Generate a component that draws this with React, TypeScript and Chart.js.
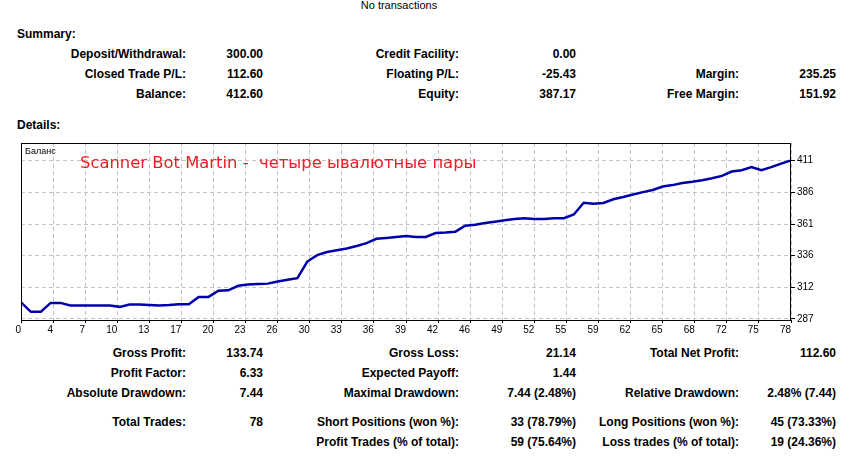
import React, { useEffect, useRef } from 'react';
import { Chart, registerables } from 'chart.js';

Chart.register(...registerables);

// Balance after each trade (index 0 = initial deposit)
const balance = [
  300.0, 292.6, 292.6, 299.6, 299.6, 297.6, 297.6, 297.6, 297.6, 297.6,
  296.5, 298.4, 298.4, 298.0, 297.5, 297.9, 298.6, 298.6, 304.3, 304.3,
  309.1, 309.5, 313.0, 314.1, 314.4, 314.7, 316.4, 317.8, 319.0, 332.0,
  337.0, 339.5, 340.9, 342.3, 344.2, 346.4, 349.8, 350.5, 351.3, 352.1,
  351.3, 351.3, 354.4, 354.7, 355.4, 360.1, 360.9, 362.2, 363.2, 364.3,
  365.3, 366.0, 365.3, 365.3, 366.0, 366.0, 368.9, 378.1, 377.3, 377.9,
  380.8, 382.6, 384.6, 386.4, 388.1, 390.8, 391.9, 393.6, 394.5, 395.7,
  397.3, 399.1, 402.5, 403.5, 406.0, 403.6, 406.0, 408.7, 411.3,
];

const xTickLabels = [
  '0', '4', '7', '10', '13', '17', '20', '23', '26', '30', '33', '36', '39',
  '42', '46', '49', '52', '55', '59', '62', '65', '68', '72', '75', '78',
];
const yTickValues = [287, 311.8, 336.6, 361.4, 386.2, 411];
const yTickLabels = ['287', '312', '336', '361', '386', '411'];

const seriesName = 'Баланс';
const chartTitle = 'Scanner Bot Martin -  четыре ывалютные пары';

const summaryRows = [
  ['Deposit/Withdrawal:', '300.00', 'Credit Facility:', '0.00', '', ''],
  ['Closed Trade P/L:', '112.60', 'Floating P/L:', '-25.43', 'Margin:', '235.25'],
  ['Balance:', '412.60', 'Equity:', '387.17', 'Free Margin:', '151.92'],
];
const detailRows = [
  ['Gross Profit:', '133.74', 'Gross Loss:', '21.14', 'Total Net Profit:', '112.60'],
  ['Profit Factor:', '6.33', 'Expected Payoff:', '1.44', '', ''],
  ['Absolute Drawdown:', '7.44', 'Maximal Drawdown:', '7.44 (2.48%)', 'Relative Drawdown:', '2.48% (7.44)'],
  ['Total Trades:', '78', 'Short Positions (won %):', '33 (78.79%)', 'Long Positions (won %):', '45 (73.33%)'],
  ['', '', 'Profit Trades (% of total):', '59 (75.64%)', 'Loss trades (% of total):', '19 (24.36%)'],
];

const summaryY = [54, 74, 94];
const detailY = [353, 373, 393, 422, 442];
const colRight = [186, 263, 459, 576, 739, 836];

const FONT = '"Liberation Sans", Arial, sans-serif';

function Cell({ text, right, y, bold = true }: { text: string; right: number; y: number; bold?: boolean }) {
  if (!text) return null;
  return (
    <div
      style={{
        position: 'absolute',
        left: right - 300,
        width: 300,
        top: y - 10,
        height: 20,
        lineHeight: '20px',
        textAlign: 'right',
        fontFamily: FONT,
        fontSize: 12,
        fontWeight: bold ? 'bold' : 'normal',
        color: '#000',
        whiteSpace: 'nowrap',
      }}
    >
      {text}
    </div>
  );
}

export default function App() {
  const ref = useRef<HTMLCanvasElement | null>(null);

  useEffect(() => {
    if (!ref.current) return;
    const decor = {
      id: 'decor',
      afterDraw(chart: any) {
        const { ctx, chartArea: a } = chart;
        ctx.save();
        ctx.setLineDash([]);
        ctx.strokeStyle = '#000';
        ctx.lineWidth = 1;
        ctx.strokeRect(a.left + 0.5, a.top + 0.5, a.right - a.left - 1, a.bottom - a.top);
        ctx.fillStyle = '#000';
        ctx.font = '9px ' + FONT;
        ctx.textBaseline = 'middle';
        ctx.textAlign = 'left';
        ctx.fillText(seriesName, a.left + 4, a.top + 9);
        ctx.fillStyle = '#f01c24';
        ctx.font = '16.4px "DejaVu Sans", sans-serif';
        ctx.fillText(chartTitle, a.left + 59, a.top + 21);
        ctx.restore();
      },
    };
    const chart = new Chart(ref.current, {
      type: 'line',
      data: {
        datasets: [
          {
            label: seriesName,
            data: balance.map((v, i) => ({ x: i, y: v })),
            borderColor: '#0000aa',
            borderWidth: 2.5,
            pointRadius: 0,
            tension: 0,
            fill: false,
          },
        ],
      },
      options: {
        animation: false,
        responsive: false,
        devicePixelRatio: 1,
        layout: { padding: { left: 21, top: 6, right: 0, bottom: 0 } },
        plugins: { legend: { display: false }, tooltip: { enabled: false }, title: { display: false } },
        scales: {
          x: {
            type: 'linear',
            min: 0,
            max: 78,
            afterBuildTicks: (scale: any) => {
              scale.ticks = xTickLabels.map((_, k) => ({ value: (k * 78) / 24 }));
            },
            afterFit: (scale: any) => {
              scale.height = 20;
            },
            ticks: {
              autoSkip: false,
              maxRotation: 0,
              minRotation: 0,
              align: 'end',
              padding: 1,
              color: '#000',
              font: { family: FONT, size: 10 },
              callback: (_v: any, i: number) => xTickLabels[i],
            },
            grid: { color: '#c4c4c4', lineWidth: 1, tickLength: 3, tickColor: '#000' },
            border: { display: false, dash: [4, 3] },
          },
          y: {
            type: 'linear',
            position: 'right',
            min: 286.2,
            max: 424.9,
            afterBuildTicks: (scale: any) => {
              scale.ticks = yTickValues.map((v) => ({ value: v }));
            },
            afterFit: (scale: any) => {
              scale.width = 69;
            },
            ticks: {
              padding: 2,
              color: '#000',
              font: { family: FONT, size: 10 },
              callback: (_v: any, i: number) => yTickLabels[i],
            },
            grid: { color: '#c4c4c4', lineWidth: 1, tickLength: 4, tickColor: '#000' },
            border: { display: false, dash: [4, 3] },
          },
        },
      },
      plugins: [decor],
    } as any);
    return () => chart.destroy();
  }, []);

  return (
    <div style={{ position: 'absolute', left: 0, top: 0, width: 860, height: 457, background: '#fff', overflow: 'hidden' }}>
      <div
        style={{
          position: 'absolute',
          left: 0,
          width: 798,
          top: -4,
          height: 18,
          lineHeight: '18px',
          textAlign: 'center',
          fontFamily: FONT,
          fontSize: 11,
          color: '#000',
        }}
      >
        No transactions
      </div>
      <div style={{ position: 'absolute', left: 17, top: 24, lineHeight: '20px', fontFamily: FONT, fontSize: 12, fontWeight: 'bold' }}>
        Summary:
      </div>
      {summaryRows.map((row, r) =>
        row.map((t, c) => <Cell key={'s' + r + '-' + c} text={t} right={colRight[c]} y={summaryY[r]} />)
      )}
      <div style={{ position: 'absolute', left: 17, top: 115, lineHeight: '20px', fontFamily: FONT, fontSize: 12, fontWeight: 'bold' }}>
        Details:
      </div>
      <canvas
        ref={ref}
        width={860}
        height={205}
        style={{ position: 'absolute', left: 0, top: 135, width: 860, height: 205 }}
      />
      {detailRows.map((row, r) =>
        row.map((t, c) => <Cell key={'d' + r + '-' + c} text={t} right={colRight[c]} y={detailY[r]} />)
      )}
    </div>
  );
}
